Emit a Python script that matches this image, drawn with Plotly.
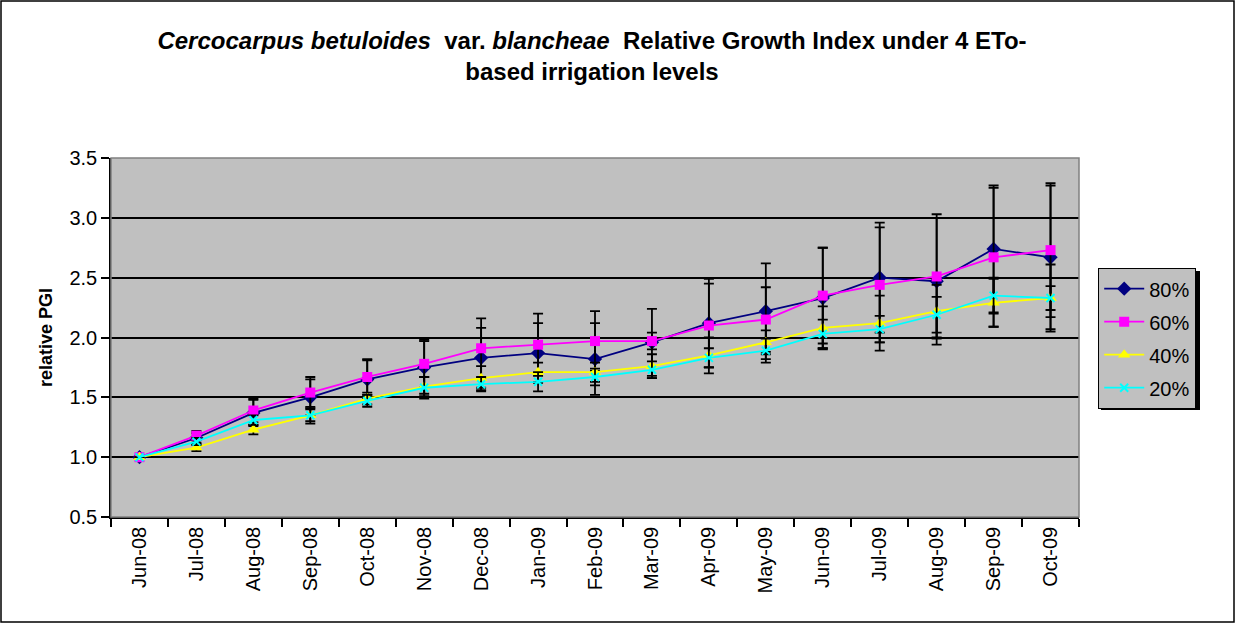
import plotly.graph_objects as go

months = ["Jun-08", "Jul-08", "Aug-08", "Sep-08", "Oct-08", "Nov-08", "Dec-08", "Jan-09", "Feb-09",
          "Mar-09", "Apr-09", "May-09", "Jun-09", "Jul-09", "Aug-09", "Sep-09", "Oct-09"]

pgi_80 = [1.00, 1.16, 1.37, 1.50, 1.65, 1.75, 1.83, 1.87, 1.82, 1.96, 2.12, 2.22, 2.33, 2.50, 2.47, 2.74, 2.67]
pgi_60 = [1.00, 1.18, 1.39, 1.54, 1.67, 1.78, 1.91, 1.94, 1.97, 1.97, 2.10, 2.15, 2.35, 2.44, 2.51, 2.67, 2.73]
pgi_40 = [1.00, 1.08, 1.23, 1.35, 1.49, 1.59, 1.66, 1.71, 1.71, 1.76, 1.85, 1.96, 2.08, 2.12, 2.22, 2.29, 2.33]
pgi_20 = [1.00, 1.13, 1.31, 1.35, 1.47, 1.58, 1.61, 1.63, 1.67, 1.73, 1.83, 1.89, 2.03, 2.07, 2.19, 2.35, 2.33]

err_80 = [0.00, 0.04, 0.11, 0.15, 0.16, 0.22, 0.25, 0.25, 0.30, 0.28, 0.37, 0.40, 0.42, 0.46, 0.53, 0.53, 0.60]
err_60 = [0.00, 0.04, 0.10, 0.13, 0.15, 0.20, 0.25, 0.26, 0.25, 0.07, 0.35, 0.27, 0.40, 0.48, 0.52, 0.58, 0.56]
err_40 = [0.00, 0.03, 0.04, 0.07, 0.05, 0.08, 0.10, 0.08, 0.08, 0.10, 0.15, 0.10, 0.18, 0.23, 0.22, 0.20, 0.28]
err_20 = [0.00, 0.03, 0.04, 0.05, 0.05, 0.09, 0.06, 0.08, 0.07, 0.07, 0.08, 0.10, 0.12, 0.11, 0.15, 0.15, 0.10]

series = [
    ("80%", pgi_80, err_80, "#000080", "diamond", 11),
    ("60%", pgi_60, err_60, "#FF00FF", "square", 10),
    ("40%", pgi_40, err_40, "#FFFF00", "triangle-up", 11),
    ("20%", pgi_20, err_20, "#00FFFF", "x-thin", 8),
]

W, H = 1236, 624
L, R, T, B = 111, 1079, 158, 517
pw, ph = R - L, B - T

fig = go.Figure()
for name, vals, errs, col, sym, sz in series:
    marker = dict(symbol=sym, size=sz, color=col)
    if sym == "x-thin":
        marker["line"] = dict(color=col, width=2)
    fig.add_trace(go.Scatter(
        x=months, y=vals, name=name, legendgroup=name, mode="lines+markers",
        line=dict(color=col, width=1.8),
        marker=marker,
        error_y=dict(type="data", array=errs, visible=True, color="black", thickness=1.8, width=5),
    ))

def px_x(p):
    return (p - L) / pw

def px_y(p):
    return (B - p) / ph

shapes = [
    # outer chart border
    dict(type="rect", xref="paper", yref="paper", x0=px_x(1), x1=px_x(W - 2), y0=px_y(H - 2), y1=px_y(1),
         line=dict(color="black", width=1.5), fillcolor="rgba(0,0,0,0)", layer="below"),
    # plot area border
    dict(type="rect", xref="paper", yref="paper", x0=0, x1=1, y0=0, y1=1,
         line=dict(color="#808080", width=1.5), fillcolor="rgba(0,0,0,0)", layer="above"),
    # legend shadow
    dict(type="rect", xref="paper", yref="paper", x0=px_x(1101), x1=px_x(1200), y0=px_y(410), y1=px_y(271),
         line=dict(color="black", width=0), fillcolor="black", layer="below"),
]

fig.update_layout(
    width=W, height=H,
    margin=dict(l=L, r=W - R, t=T, b=H - B, autoexpand=False),
    paper_bgcolor="white",
    plot_bgcolor="#C0C0C0",
    font=dict(family="Arial, Liberation Sans, sans-serif", color="black"),
    title=dict(
        text="<b><i>Cercocarpus betuloides</i>  var. <i>blancheae</i>  Relative Growth Index under 4 ETo-<br>based irrigation levels</b>",
        x=px_x(592), xref="paper", xanchor="center",
        y=1 - 49 / H, yref="container", yanchor="middle",
        font=dict(size=24, color="black"),
    ),
    showlegend=True,
    legend=dict(
        x=px_x(1098), y=px_y(268), xanchor="left", yanchor="top",
        bgcolor="#C0C0C0", bordercolor="black", borderwidth=1.2,
        font=dict(size=20, color="black"),
        itemwidth=40, tracegroupgap=4,
    ),
    shapes=shapes,
)

fig.update_xaxes(
    type="category", tickson="boundaries", ticks="outside", ticklen=8, tickcolor="black", tickwidth=1.5,
    showline=True, linecolor="black", linewidth=1.5, showgrid=False,
    tickangle=-90, tickfont=dict(size=20, color="black"), range=[-0.5, 16.5],
)
fig.update_yaxes(
    range=[0.5, 3.5], dtick=0.5, tick0=0.5, tickformat=".1f",
    ticks="outside", ticklen=8, tickcolor="black", tickwidth=1.5,
    showline=True, linecolor="black", linewidth=1.5,
    showgrid=True, gridcolor="black", gridwidth=1.5, zeroline=False,
    tickfont=dict(size=20, color="black"),
    title=dict(text="<b>relative PGI</b>", font=dict(size=18, color="black"), standoff=12),
)

fig.write_html("out.html", post_script="document.body.style.margin='0px';",
               config={"displayModeBar": False})
